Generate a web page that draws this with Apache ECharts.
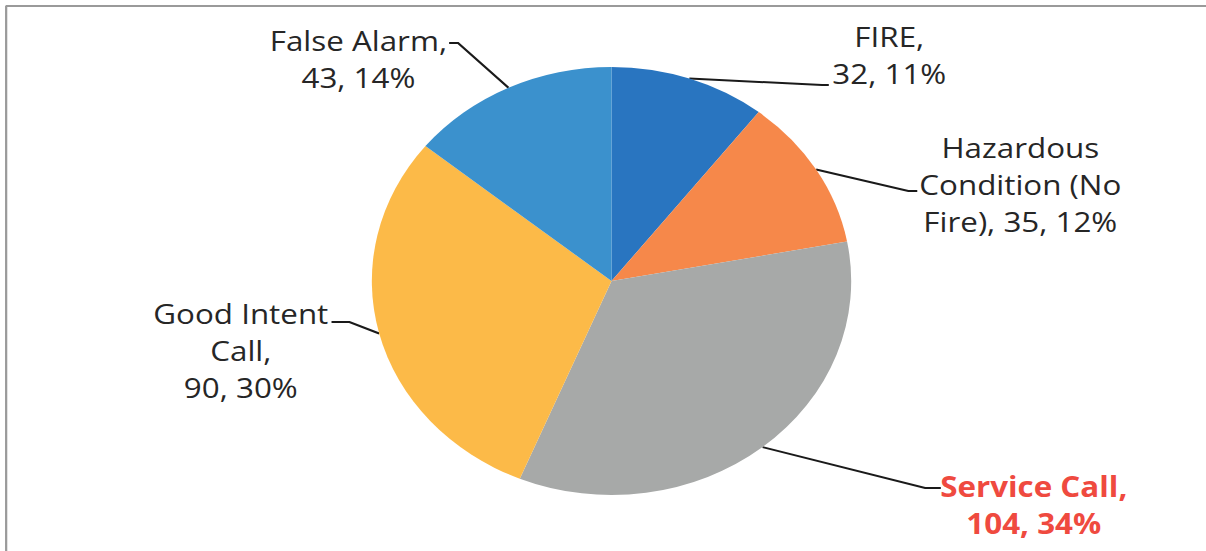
<!DOCTYPE html>
<html>
<head>
<meta charset="utf-8">
<script src="https://cdn.jsdelivr.net/npm/echarts@6/dist/echarts.min.js"></script>
<style>
  html, body { margin: 0; padding: 0; background: #fff; overflow: hidden; }
  /* the scanned original is stretched sideways, so the whole chart is widened */
  #chart { width: 1077px; height: 551px; transform: scaleX(1.12); transform-origin: 0 0; }
</style>
</head>
<body>
<div id="chart"></div>
<script>
// 数据
const categories = ['FIRE', 'Hazardous\nCondition (No\nFire)', 'Service Call', 'Good Intent\nCall', 'False Alarm'];
const counts = [32, 35, 104, 90, 43];
const nameSep = [',\n', ', ', ',\n', ',\n', ',\n'];
const colors = ['#2975c0', '#f6884a', '#a7a9a8', '#fcba48', '#3b91cd'];

// label block centre + leader line elbow / end (chart units, before the stretch)
const labelPos = [
  { x: 794, y: 55, elbow: [734, 85], end: [740, 85] },
  { x: 911, y: 184, elbow: [811, 191], end: [819, 191] },
  { x: 923, y: 505, elbow: [826, 488], end: [840, 488] },
  { x: 215, y: 350, elbow: [312, 322], end: [296, 322] },
  { x: 320, y: 59, elbow: [409, 43], end: [401, 43] }
];

var myChart = echarts.init(document.getElementById('chart'), null, { renderer: 'svg' });

var option = {
  animation: false,
  graphic: [
    { type: 'line', shape: { x1: 5, y1: 6, x2: 1077, y2: 6 }, style: { stroke: '#9a9a9a', lineWidth: 2 } },
    { type: 'line', shape: { x1: 5.5, y1: 6, x2: 5.5, y2: 551 }, style: { stroke: '#9a9a9a', lineWidth: 2 } }
  ],
  series: [
    {
      type: 'pie',
      center: [546, 281],
      radius: 214,
      startAngle: 90,
      clockwise: true,
      avoidLabelOverlap: false,
      data: categories.map((c, i) => ({
        name: c,
        value: counts[i],
        itemStyle: { color: colors[i] },
        label: i === 2 ? { color: '#ef4a3f', fontWeight: 'bold' } : {}
      })),
      itemStyle: { borderWidth: 0 },
      label: {
        show: true,
        position: 'outside',
        fontFamily: 'Open Sans',
        fontSize: 28,
        lineHeight: 37,
        color: '#262626',
        align: 'center',
        formatter: function (p) {
          return p.name + nameSep[p.dataIndex] + p.value + ', ' + Math.round(p.percent) + '%';
        }
      },
      labelLine: {
        show: true,
        length: 20,
        length2: 20,
        lineStyle: { color: '#1a1a1a', width: 2 }
      },
      labelLayout: function (params) {
        const lp = labelPos[params.dataIndex];
        const pts = params.labelLinePoints;
        const res = { x: lp.x, y: lp.y, align: 'center', verticalAlign: 'middle' };
        if (pts) {
          res.labelLinePoints = [pts[0], lp.elbow, lp.end];
        }
        return res;
      }
    }
  ]
};

myChart.setOption(option);
</script>
</body>
</html>
